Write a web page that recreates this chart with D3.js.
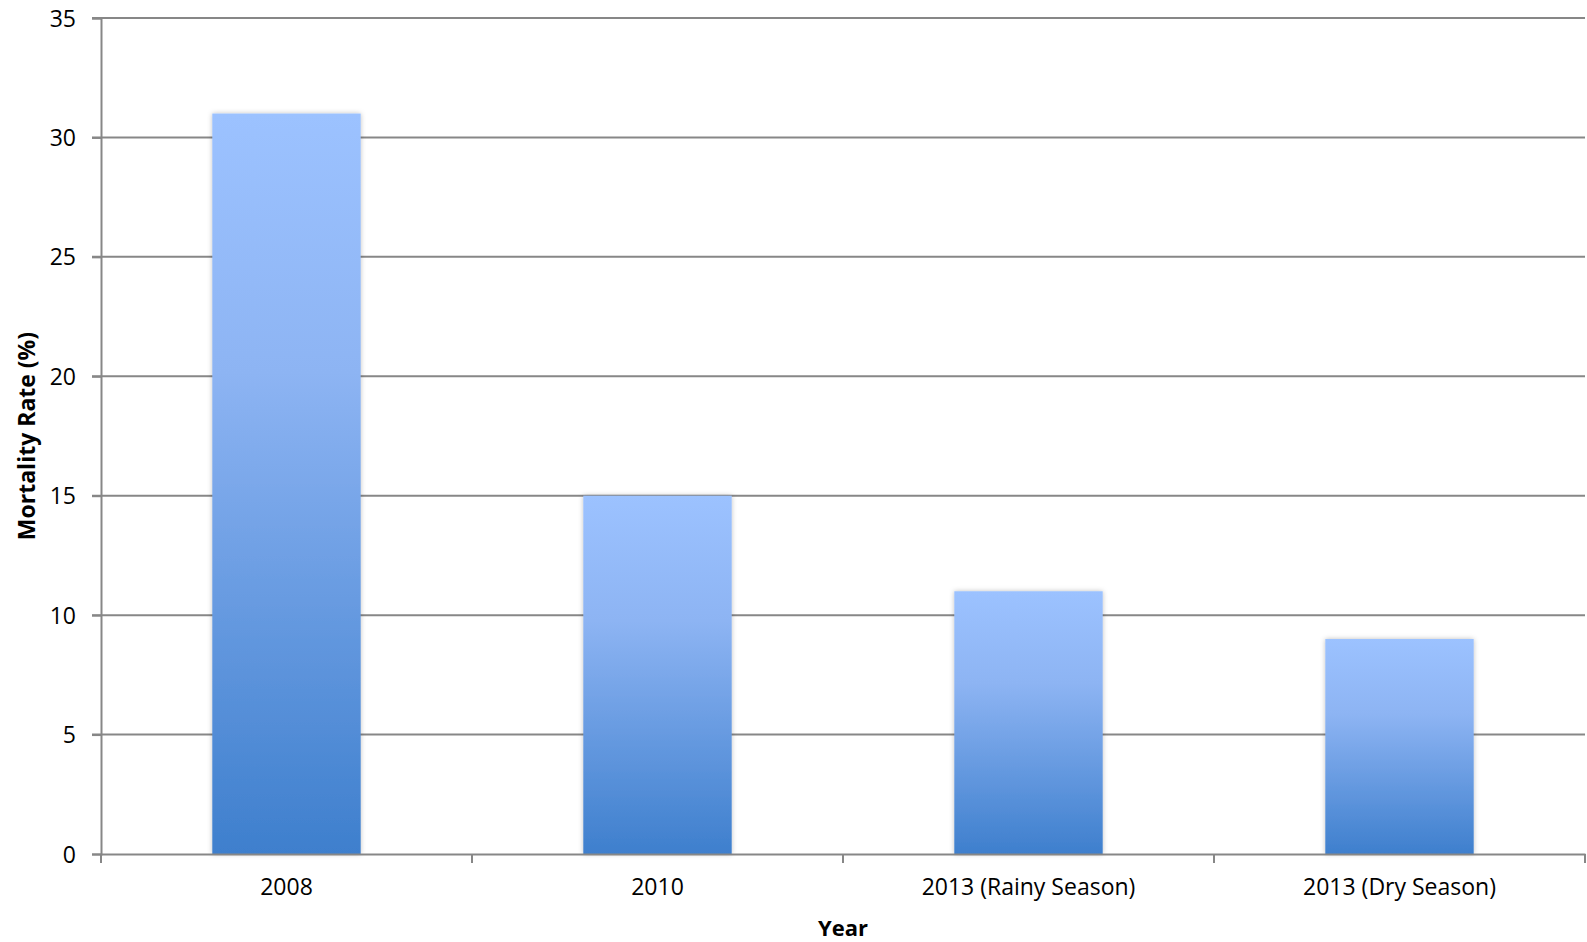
<!DOCTYPE html>
<html>
<head>
<meta charset="utf-8">
<script src="https://cdn.jsdelivr.net/npm/d3@7"></script>
<style>
  html, body { margin: 0; padding: 0; background: #fff; }
  svg { display: block; }
  text { font-family: "Open Sans", "Noto Sans", sans-serif; fill: #000; }
</style>
</head>
<body>
<svg id="chart" width="1587" height="942"></svg>
<script>
const categories = ["2008", "2010", "2013 (Rainy Season)", "2013 (Dry Season)"];
const mortality = [31, 15, 11, 9];
const yTicks = [0, 5, 10, 15, 20, 25, 30, 35];
const yTitle = "Mortality Rate (%)";
const xTitle = "Year";

const svg = d3.select("#chart");
const m = { left: 101, right: 2, top: 18, bottom: 88 };
const W = 1587, H = 942;
const x = d3.scaleBand().domain(categories)
  .range([m.left, W - m.right]).paddingInner(0.6).paddingOuter(0.3);
const y = d3.scaleLinear().domain([0, 35]).range([H - m.bottom, m.top]);

const defs = svg.append("defs");
const grad = defs.append("linearGradient").attr("id", "barGrad")
  .attr("x1", 0).attr("y1", 0).attr("x2", 0).attr("y2", 1);
grad.append("stop").attr("offset", "0%").attr("stop-color", "#9CC2FF");
grad.append("stop").attr("offset", "35%").attr("stop-color", "#8DB4F3");
grad.append("stop").attr("offset", "100%").attr("stop-color", "#3E7FCD");
const filt = defs.append("filter").attr("id", "shadow")
  .attr("x", "-10%").attr("y", "-10%").attr("width", "120%").attr("height", "120%");
filt.append("feDropShadow").attr("dx", 0).attr("dy", 0).attr("stdDeviation", 2.5)
  .attr("flood-color", "#000").attr("flood-opacity", 0.25);

// gridlines
svg.append("g").selectAll("line").data(yTicks.filter(d => d > 0)).join("line")
  .attr("x1", m.left - 9).attr("x2", W - m.right)
  .attr("y1", d => y(d)).attr("y2", d => y(d))
  .attr("stroke", "#878787").attr("stroke-width", 2);

// y axis
const yAxis = svg.append("g").attr("transform", `translate(${m.left},0)`)
  .call(d3.axisLeft(y).tickValues(yTicks).tickSize(9).tickPadding(16));
yAxis.select(".domain").attr("stroke", "#878787").attr("stroke-width", 2);
yAxis.selectAll(".tick line").attr("stroke", "#878787").attr("stroke-width", 2);
yAxis.selectAll(".tick text").attr("font-size", 23).attr("font-family", "Open Sans, sans-serif")
  .attr("fill", "#000").attr("dy", "0.35em");

// bars
svg.append("g").selectAll("rect").data(mortality).join("rect")
  .attr("x", (d, i) => x(categories[i]))
  .attr("y", d => y(d))
  .attr("width", x.bandwidth())
  .attr("height", d => y(0) - y(d))
  .attr("fill", "url(#barGrad)")
  .attr("filter", "url(#shadow)");

// x axis
const xAxis = svg.append("g").attr("transform", `translate(0,${y(0)})`)
  .call(d3.axisBottom(x).tickSize(0).tickPadding(25));
xAxis.select(".domain").attr("stroke", "#878787").attr("stroke-width", 2);
xAxis.selectAll(".tick text").attr("font-size", 23).attr("font-family", "Open Sans, sans-serif")
  .attr("fill", "#000");
// category boundary ticks
const bTicks = d3.range(categories.length + 1).map(i => m.left + i * x.step());
svg.append("g").selectAll("line").data(bTicks).join("line")
  .attr("x1", d => d).attr("x2", d => d)
  .attr("y1", y(0)).attr("y2", y(0) + 9)
  .attr("stroke", "#878787").attr("stroke-width", 2);

// titles
svg.append("text").attr("transform", `translate(35,${(y(0) + y(35)) / 2}) rotate(-90)`)
  .attr("text-anchor", "middle").attr("font-weight", "bold").attr("font-size", 23)
  .text(yTitle);
svg.append("text").attr("x", (m.left + W - m.right) / 2).attr("y", 936)
  .attr("text-anchor", "middle").attr("font-weight", "bold").attr("font-size", 22)
  .text(xTitle);
</script>
</body>
</html>
